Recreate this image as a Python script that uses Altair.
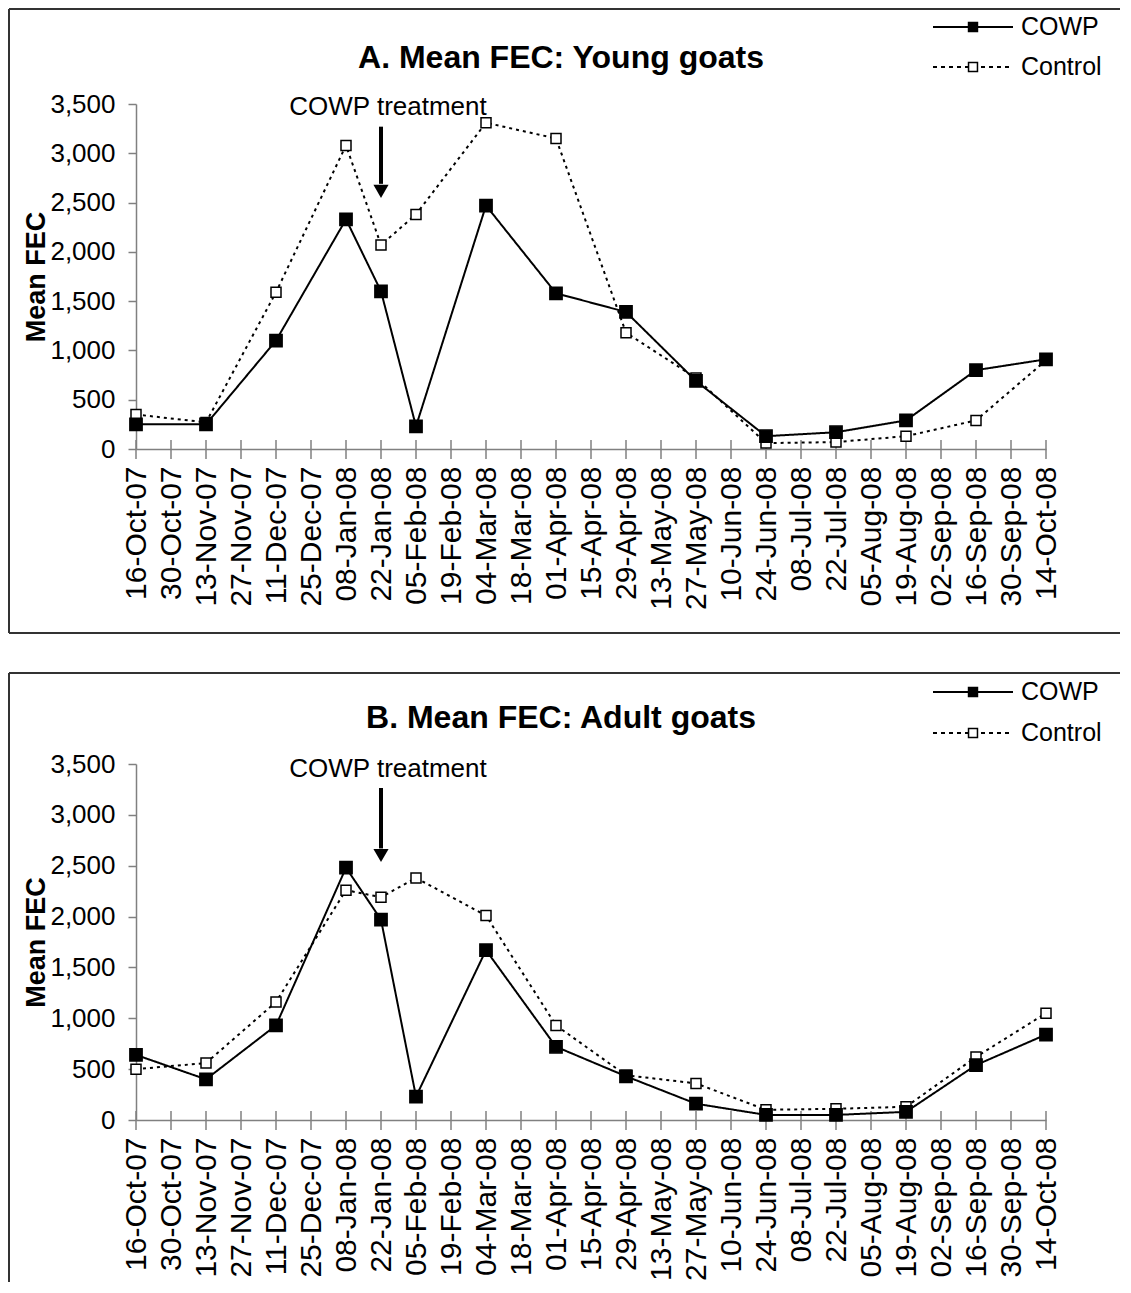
import altair as alt
import pandas as pd

# ---- data ----
DATES = ["16-Oct-07", "30-Oct-07", "13-Nov-07", "27-Nov-07", "11-Dec-07", "25-Dec-07",
         "08-Jan-08", "22-Jan-08", "05-Feb-08", "19-Feb-08", "04-Mar-08", "18-Mar-08",
         "01-Apr-08", "15-Apr-08", "29-Apr-08", "13-May-08", "27-May-08", "10-Jun-08",
         "24-Jun-08", "08-Jul-08", "22-Jul-08", "05-Aug-08", "19-Aug-08", "02-Sep-08",
         "16-Sep-08", "30-Sep-08", "14-Oct-08"]

SAMPLE_DATES = ["16-Oct-07", "13-Nov-07", "11-Dec-07", "08-Jan-08", "22-Jan-08", "05-Feb-08",
                "04-Mar-08", "01-Apr-08", "29-Apr-08", "27-May-08", "24-Jun-08", "22-Jul-08",
                "19-Aug-08", "16-Sep-08", "14-Oct-08"]

YOUNG_COWP = [250, 250, 1100, 2330, 1600, 230, 2470, 1580, 1390, 690, 130, 170, 290, 800, 910]
YOUNG_CONTROL = [350, 270, 1590, 3080, 2070, 2380, 3310, 3150, 1180, 720, 60, 70, 130, 290, 900]
ADULT_COWP = [640, 400, 930, 2480, 1970, 230, 1670, 720, 430, 160, 50, 50, 80, 540, 840]
ADULT_CONTROL = [500, 560, 1160, 2260, 2190, 2380, 2010, 930, 440, 360, 100, 110, 130, 620, 1050]

SERIES = ["COWP", "Control"]
Y_TICKS = [0, 500, 1000, 1500, 2000, 2500, 3000, 3500]
TITLES = ["A. Mean FEC: Young goats", "B. Mean FEC: Adult goats"]
Y_TITLE = "Mean FEC"
TREAT_DATE = "22-Jan-08"
TREAT_LABEL = "COWP treatment"

FONT = "Liberation Sans"
W = 910
GRAY = "#808080"
DASH = {"COWP": [1, 0], "Control": [3, 4]}
LEGEND_DASH = {"COWP": [1, 0], "Control": [4, 4]}
FILL = {"COWP": "black", "Control": "white"}


def long_df(cowp, control):
    rows = []
    for d, v in zip(SAMPLE_DATES, control):
        rows.append({"date": d, "value": v, "series": "Control"})
    for d, v in zip(SAMPLE_DATES, cowp):
        rows.append({"date": d, "value": v, "series": "COWP"})
    return pd.DataFrame(rows)


def panel(title, cowp, control, h, border_top, border_bottom, draw_bottom,
          legend_rows, title_y, text_y, arrow_top, arrow_base, head_y):
    df = long_df(cowp, control)
    xscale = alt.Scale(type="point", domain=DATES, padding=0)
    yscale = alt.Scale(domain=[0, 3500], nice=False)

    xaxis = alt.Axis(title=None, labelAngle=270, labelFontSize=30, labelFont=FONT,
                     labelColor="black", labelPadding=17, labelOverlap=False,
                     ticks=False, tickSize=0, domainColor=GRAY, domainWidth=1.5,
                     labelLimit=400, grid=False)
    yaxis = alt.Axis(title=Y_TITLE, values=Y_TICKS, format=",d", labelFontSize=26,
                     labelFont=FONT, labelColor="black", labelPadding=13,
                     tickSize=8, tickColor=GRAY, tickWidth=1.5,
                     domainColor=GRAY, domainWidth=1.5, grid=False,
                     titleFontSize=27, titleFont=FONT, titleFontWeight="bold",
                     titleColor="black", titleAngle=270, titleX=-92, titleY=h / 2,
                     titleBaseline="alphabetic", titleAlign="center")

    def X():
        return alt.X("date:N", scale=xscale, axis=xaxis)

    def Y(field):
        return alt.Y(field, scale=yscale, axis=yaxis)

    one = pd.DataFrame({"k": [0]})
    layers = [
        alt.Chart(one).mark_rule(color="#333333", strokeWidth=2).encode(
            x=alt.value(-127), x2=alt.value(984), y=alt.value(border_top)),
        alt.Chart(one).mark_rule(color="#333333", strokeWidth=2).encode(
            x=alt.value(-127), y=alt.value(border_top), y2=alt.value(border_bottom)),
    ]
    if draw_bottom:
        layers.append(alt.Chart(one).mark_rule(color="#333333", strokeWidth=2).encode(
            x=alt.value(-127), x2=alt.value(984), y=alt.value(border_bottom)))

    # title
    layers.append(alt.Chart(pd.DataFrame({"t": [title]})).mark_text(
        fontSize=32, font=FONT, fontWeight="bold", color="black", baseline="middle",
        align="center").encode(x=alt.value(425), y=alt.value(title_y), text="t:N"))

    # x-axis ticks crossing the axis line
    tick_df = pd.DataFrame({"date": DATES})
    layers.append(alt.Chart(tick_df).mark_rule(color=GRAY, strokeWidth=1.5).encode(
        x=X(), y=alt.value(h - 9), y2=alt.value(h + 10)))

    # data: lines then markers (Control first, COWP on top)
    for name in ["Control", "COWP"]:
        sub = df[df["series"] == name]
        layers.append(alt.Chart(sub).mark_line(
            color="black", strokeWidth=2, strokeDash=DASH[name]).encode(
            x=X(), y=Y("value:Q")))
    for name, size in [("Control", 100), ("COWP", 150)]:
        sub = df[df["series"] == name]
        layers.append(alt.Chart(sub).mark_point(
            shape="square", filled=True, fill=FILL[name], stroke="black",
            strokeWidth=1.5, opacity=1, size=size).encode(x=X(), y=Y("value:Q")))

    # legend
    for name, ry in zip(SERIES, legend_rows):
        ldf = pd.DataFrame({"name": [name]})
        layers.append(alt.Chart(ldf).mark_rule(
            color="black", strokeWidth=2, strokeDash=LEGEND_DASH[name]).encode(
            x=alt.value(797), x2=alt.value(877), y=alt.value(ry)))
        layers.append(alt.Chart(ldf).mark_point(
            shape="square", filled=True, fill=FILL[name], stroke="black",
            strokeWidth=1.5, opacity=1, size=80).encode(x=alt.value(837), y=alt.value(ry)))
        layers.append(alt.Chart(ldf).mark_text(
            fontSize=25, font=FONT, color="black", align="left", baseline="middle").encode(
            x=alt.value(885), y=alt.value(ry), text="name:N"))

    # treatment annotation
    ann = pd.DataFrame({"date": [TREAT_DATE], "top": [arrow_top], "base": [arrow_base],
                        "head": [head_y], "ty": [text_y], "label": [TREAT_LABEL]})
    layers.append(alt.Chart(ann).mark_rule(color="black", strokeWidth=4).encode(
        x=X(), y=Y("top:Q"), y2="base:Q"))
    layers.append(alt.Chart(ann).mark_point(shape="triangle-down", filled=True, size=230,
                                            color="black", opacity=1).encode(
        x=X(), y=Y("head:Q")))
    layers.append(alt.Chart(ann).mark_text(fontSize=26, font=FONT, dx=7, color="black",
                                           baseline="middle").encode(
        x=X(), y=Y("ty:Q"), text="label:N"))

    return alt.layer(*layers).properties(width=W, height=h)


panel_a = panel(TITLES[0], YOUNG_COWP, YOUNG_CONTROL, 345, -95, 529, True,
                [-77, -37], -46, 3470, 3270, 2690, 2614)
panel_b = panel(TITLES[1], ADULT_COWP, ADULT_CONTROL, 356, -91, 518, False,
                [-72, -31], -46, 3450, 3264, 2670, 2600)

chart = alt.vconcat(panel_a, panel_b, spacing=38).properties(
    padding={"left": 0, "top": 0, "right": 0, "bottom": 0}
).configure_view(stroke=None)

chart.save("out.html", embed_options={"renderer": "svg", "actions": False})
